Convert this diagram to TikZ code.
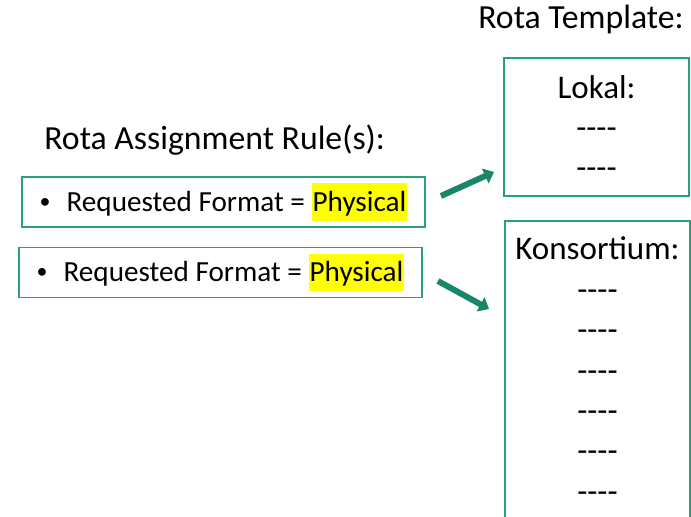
\documentclass[tikz,border=0pt]{standalone}
\usepackage{fontspec}
\setmainfont{Carlito}
\usepackage{tikz}
\usetikzlibrary{arrows.meta, positioning, calc}
\definecolor{boxgreen}{RGB}{40,160,120}
\definecolor{flowgreen}{RGB}{24,135,105}
\definecolor{hlyellow}{RGB}{255,255,0}
\newcommand{\hlword}[1]{{\setlength{\fboxsep}{0.6pt}\colorbox{hlyellow}{\rule[-0.3em]{0pt}{1.22em}#1}}\hspace{3.4pt}}
\newcommand{\blank}{-{}-{}-{}-}
\newcommand{\smallbullet}{\raisebox{0.1em}{\scalebox{0.75}{•}}}

\begin{document}
\begin{tikzpicture}[
    x=0.02cm, y=-0.02cm,
    rulebox/.style={draw=boxgreen, line width=1.1pt, minimum width=8.06cm, minimum height=1cm, inner sep=0pt, font=\fontsize{16.6}{20}\selectfont},
    tmplbox/.style={draw=boxgreen, line width=1.1pt, minimum width=3.7cm, inner sep=0pt, align=center, font=\fontsize{18.8}{23}\selectfont},
    heading/.style={anchor=west, inner sep=0pt, font=\fontsize{19.2}{23}\selectfont},
    flow/.style={draw=flowgreen, line width=3.4pt, -{Triangle[length=5.5pt,width=9pt]}}
]
    \useasboundingbox (0,0) rectangle (691,517);

    % Headings
    \node[heading] (tmpltitle) at (478,20) {Rota Template:};
    \node[heading] (ruletitle) at (44,140) {Rota Assignment Rule(s):};

    % Rules
    \node[rulebox] (rule1) at (223.5,202) {\smallbullet\hspace{0.55em}Requested Format = \hlword{Physical}};
    \node[rulebox] (rule2) at (220.5,272.5) {\smallbullet\hspace{0.55em}Requested Format = \hlword{Physical}};

    % Templates
    \node[tmplbox, minimum height=2.76cm] (lokal) at (596.5,127) {Lokal:\\\blank\\\blank};
    \node[tmplbox, minimum height=6.4cm, anchor=north] (kons) at (597.5,220) {};
    \node[tmplbox, draw=none, minimum width=0pt, anchor=north] (konstext) at ($(kons.north)+(0,16)$)
        {Konsortium:\\\blank\\\blank\\\blank\\\blank\\\blank\\\blank};

    % Arrows
    \draw[flow] ($(rule1.east)+(15,-6)$) -- ($(lokal.west)+(-9,45)$);
    \draw[flow] ($(rule2.east)+(15,8.5)$) -- ($(kons.north west)+(-15,89)$);
\end{tikzpicture}
\end{document}
